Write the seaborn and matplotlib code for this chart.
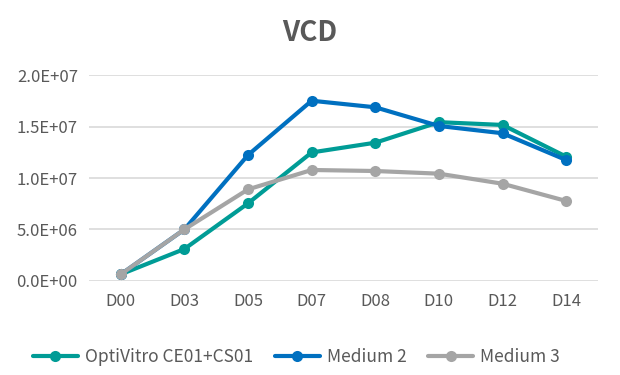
import matplotlib
matplotlib.use("Agg")
import matplotlib.pyplot as plt
import seaborn as sns
import pandas as pd
from matplotlib.ticker import FuncFormatter

days = ["D00", "D03", "D05", "D07", "D08", "D10", "D12", "D14"]
optivitro = [6.2e5, 3.09e6, 7.54e6, 12.5e6, 13.45e6, 15.45e6, 15.18e6, 12.09e6]
medium2 = [6.2e5, 5.0e6, 12.25e6, 17.54e6, 16.9e6, 15.08e6, 14.37e6, 11.76e6]
medium3 = [6.2e5, 5.0e6, 8.9e6, 10.79e6, 10.69e6, 10.43e6, 9.45e6, 7.77e6]
series_names = ["OptiVitro CE01+CS01", "Medium 2", "Medium 3"]
colors = ["#009C96", "#0070C0", "#A5A5A5"]

rows = []
for name, vals in zip(series_names, [optivitro, medium2, medium3]):
    for d, v in zip(days, vals):
        rows.append({"Day": d, "VCD": v, "Series": name})
df = pd.DataFrame(rows)

sns.set_theme(style="white")
plt.rcParams['font.family'] = ['Noto Sans CJK SC', 'DejaVu Sans']

fig = plt.figure(figsize=(6.2, 3.75), dpi=100)
ax = fig.add_axes([0.1435, 0.2515, 0.821, 0.5472])

sns.lineplot(data=df, x="Day", y="VCD", hue="Series", hue_order=series_names,
             palette=colors, marker="o", markersize=8, markeredgewidth=0,
             linewidth=3, sort=False, ax=ax)

ax.set_xlim(-0.5, len(days) - 0.5)
ax.set_ylim(0, 2.0e7)
ax.set_yticks([0, 5e6, 1e7, 1.5e7, 2e7])
ax.yaxis.set_major_formatter(FuncFormatter(lambda v, p: ("%.1E" % v)))
ax.grid(axis="y", color="#D9D9D9", linewidth=1.2)
ax.set_axisbelow(True)
for s in ax.spines.values():
    s.set_visible(False)
ax.tick_params(axis="both", length=0, labelsize=12, colors="#595959", pad=8)
ax.tick_params(axis="x", pad=9)
ax.set_xlabel("")
ax.set_ylabel("")

fig.text(0.5, 0.912, "VCD", ha="center", va="center", fontsize=20,
         fontweight="bold", color="#595959")

handles, labels = ax.get_legend_handles_labels()
ax.legend(handles, labels, loc="center", bbox_to_anchor=(0.478, 0.048),
          bbox_transform=fig.transFigure, ncol=3, frameon=False,
          fontsize=12.5, labelcolor="#595959", handlelength=2.6,
          columnspacing=1.26, handletextpad=0.4)

fig.savefig("out.png", dpi=100)
